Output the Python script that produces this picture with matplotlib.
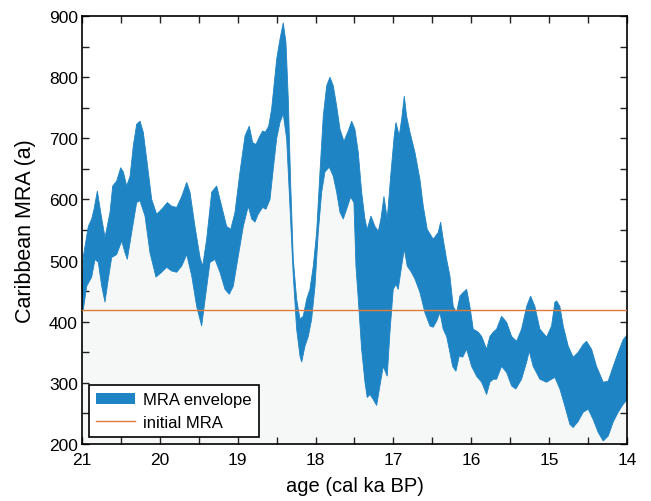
import numpy as np
import matplotlib
matplotlib.use("Agg")
import matplotlib.pyplot as plt
from matplotlib.patches import Patch
from matplotlib.lines import Line2D

plt.rcParams['font.family'] = ['Liberation Sans', 'DejaVu Sans']

# upper edge of the MRA envelope (age in cal ka BP, MRA in years)
upper_age = [20.983, 20.919, 20.876, 20.846, 20.803, 20.760, 20.705, 20.640, 20.606, 20.555,
             20.503, 20.469, 20.426, 20.383, 20.341, 20.298, 20.255, 20.213, 20.169, 20.105,
             20.041, 19.976, 19.904, 19.848, 19.784, 19.719, 19.655, 19.613, 19.549, 19.484,
             19.450, 19.399, 19.334, 19.270, 19.206, 19.142, 19.090, 19.035, 18.971, 18.906,
             18.851, 18.808, 18.765, 18.723, 18.679, 18.646, 18.602, 18.564, 18.521, 18.499,
             18.457, 18.415, 18.380, 18.350, 18.320, 18.286, 18.243, 18.200, 18.158, 18.114,
             18.072, 18.029, 17.986, 17.943, 17.901, 17.857, 17.815, 17.772, 17.729, 17.686,
             17.635, 17.580, 17.536, 17.494, 17.451, 17.408, 17.365, 17.336, 17.288, 17.237,
             17.194, 17.160, 17.121, 17.079, 17.035, 16.993, 16.967, 16.925, 16.894, 16.860,
             16.830, 16.787, 16.723, 16.659, 16.616, 16.565, 16.488, 16.424, 16.393, 16.360,
             16.316, 16.274, 16.231, 16.188, 16.145, 16.103, 16.059, 16.017, 15.974, 15.910,
             15.866, 15.802, 15.760, 15.717, 15.674, 15.610, 15.545, 15.481, 15.417, 15.353,
             15.288, 15.237, 15.182, 15.118, 15.032, 14.968, 14.925, 14.903, 14.861, 14.818,
             14.754, 14.690, 14.626, 14.561, 14.518, 14.454, 14.390, 14.304, 14.240, 14.176,
             14.112, 14.047, 14.000]
upper_mra = [507, 556, 568, 584, 614, 579, 538, 579, 622, 630,
             652, 645, 622, 638, 688, 723, 728, 710, 666, 600,
             576, 584, 595, 589, 587, 605, 628, 612, 556, 505,
             491, 535, 612, 622, 589, 556, 551, 579, 645, 704,
             720, 693, 690, 702, 712, 710, 720, 748, 802, 830,
             862, 889, 857, 764, 628, 502, 437, 404, 409, 437,
             453, 491, 546, 645, 736, 786, 800, 786, 753, 715,
             695, 712, 728, 715, 677, 612, 568, 551, 573, 556,
             548, 568, 605, 568, 638, 699, 726, 704, 731, 769,
             736, 710, 677, 633, 589, 551, 535, 546, 563, 535,
             502, 475, 425, 415, 442, 448, 453, 425, 388, 383,
             376, 355, 376, 383, 388, 409, 399, 376, 368, 388,
             425, 442, 425, 388, 375, 393, 432, 434, 425, 393,
             360, 342, 350, 363, 368, 355, 327, 301, 303, 327,
             350, 371, 378]

# lower edge of the MRA envelope
lower_age = [21.000, 20.983, 20.940, 20.876, 20.833, 20.791, 20.747, 20.705, 20.662, 20.619,
             20.555, 20.490, 20.448, 20.418, 20.362, 20.298, 20.255, 20.191, 20.127, 20.050,
             19.976, 19.912, 19.848, 19.784, 19.719, 19.655, 19.591, 19.527, 19.463, 19.407,
             19.356, 19.292, 19.228, 19.163, 19.108, 19.057, 18.993, 18.928, 18.864, 18.820,
             18.778, 18.736, 18.679, 18.637, 18.585, 18.543, 18.499, 18.457, 18.415, 18.371,
             18.329, 18.286, 18.243, 18.200, 18.178, 18.136, 18.093, 18.050, 18.007, 17.965,
             17.921, 17.879, 17.824, 17.772, 17.729, 17.686, 17.644, 17.601, 17.549, 17.507,
             17.481, 17.451, 17.408, 17.365, 17.336, 17.301, 17.259, 17.215, 17.173, 17.130,
             17.079, 17.044, 17.002, 16.967, 16.938, 16.894, 16.860, 16.822, 16.778, 16.723,
             16.659, 16.595, 16.530, 16.488, 16.444, 16.402, 16.360, 16.316, 16.274, 16.239,
             16.197, 16.154, 16.110, 16.059, 15.995, 15.931, 15.866, 15.802, 15.760, 15.717,
             15.674, 15.610, 15.545, 15.481, 15.426, 15.353, 15.288, 15.255, 15.204, 15.118,
             15.032, 14.968, 14.925, 14.861, 14.797, 14.732, 14.690, 14.626, 14.561, 14.497,
             14.433, 14.369, 14.304, 14.240, 14.176, 14.112, 14.047, 14.000]
lower_mra = [420, 420, 458, 473, 502, 497, 458, 432, 470, 505,
             510, 532, 513, 502, 546, 595, 598, 573, 513, 473,
             481, 489, 483, 481, 491, 510, 475, 425, 393, 448,
             497, 502, 481, 453, 445, 458, 507, 556, 589, 568,
             563, 576, 587, 584, 600, 650, 700, 726, 740, 699,
             589, 475, 388, 344, 334, 360, 376, 404, 458, 546,
             612, 645, 653, 638, 612, 579, 568, 584, 604, 595,
             491, 437, 355, 301, 276, 281, 273, 263, 295, 327,
             311, 383, 453, 461, 453, 491, 519, 491, 483, 470,
             448, 415, 393, 391, 401, 415, 388, 376, 350, 327,
             319, 344, 342, 355, 327, 311, 301, 281, 301, 306,
             306, 327, 317, 295, 290, 306, 334, 352, 327, 306,
             301, 306, 309, 290, 262, 232, 227, 237, 252, 257,
             240, 219, 205, 213, 236, 252, 265, 272]

initial_mra = 420

fig = plt.figure(figsize=(6.51, 5.02), dpi=100)
ax = fig.add_axes([0.126, 0.1135, 0.837, 0.8525])

# pale area under the envelope
ax.fill_between(lower_age, lower_mra, 200, color='#f6f8f8', lw=0, zorder=1)

# envelope as one polygon: upper edge forward, lower edge back
env_x = np.concatenate([upper_age, lower_age[::-1]])
env_y = np.concatenate([upper_mra, lower_mra[::-1]])
ax.fill(env_x, env_y, color='#1f84c4', lw=0.6, ec='#1f84c4', zorder=2)

ax.axhline(initial_mra, color='#e07a38', lw=1.0, zorder=3)

ax.set_xlim(21, 14)
ax.set_ylim(200, 900)
ax.set_xticks(np.arange(14, 22, 1))
ax.set_xticks(np.arange(14, 21.5, 0.5), minor=True)
ax.set_yticks(np.arange(200, 1000, 100))
ax.set_yticks(np.arange(200, 950, 50), minor=True)
ax.tick_params(which='both', direction='in', top=True, right=True,
               labelsize=12.5, width=1, color='#222222', length=5)
ax.tick_params(axis='x', which='both', pad=6)
ax.tick_params(axis='y', which='both', pad=3)
for s in ax.spines.values():
    s.set_linewidth(1.2)

ax.set_xlabel('age (cal ka BP)', fontsize=14.5, labelpad=6)
ax.set_ylabel('Caribbean MRA (a)', fontsize=15.5, labelpad=9)

handles = [Patch(facecolor='#1f84c4', edgecolor='none', label='MRA envelope'),
           Line2D([], [], color='#e07a38', lw=1.0, label='initial MRA')]
leg = ax.legend(handles=handles, loc='lower left', fontsize=12, fancybox=False,
                framealpha=1, edgecolor='black', borderaxespad=0.4,
                handlelength=2.3, handletextpad=0.5, borderpad=0.45, labelspacing=0.45)
leg.get_frame().set_linewidth(1.2)
leg.set_zorder(5)

fig.savefig('out.png', dpi=100)
